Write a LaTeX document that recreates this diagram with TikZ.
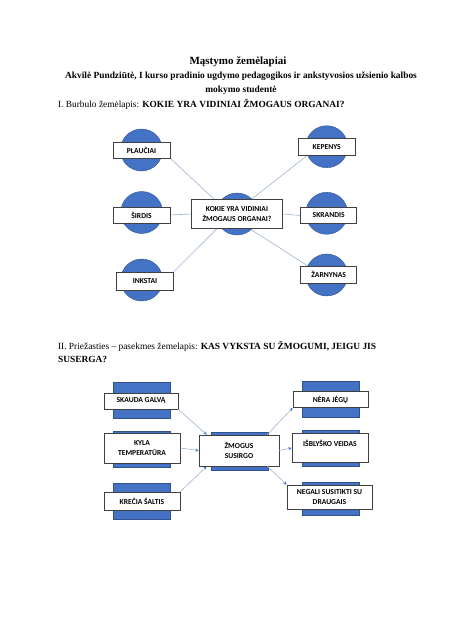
\documentclass[tikz,border=0pt]{standalone}
\usepackage{fontspec}
\setmainfont{Liberation Serif}
\newfontfamily\carlito{Carlito}
\usetikzlibrary{arrows.meta,positioning,calc,backgrounds}
\definecolor{accent1}{HTML}{4472C4}
\definecolor{accent1dk}{HTML}{2F528F}
\definecolor{linegray}{HTML}{9FB2D3}
\definecolor{boxgray}{HTML}{404040}

\begin{document}
\begin{tikzpicture}[x=1pt,y=-1pt,
    bubble/.style={circle,fill=accent1,draw=accent1dk,line width=0.4pt,minimum size=42pt,inner sep=0pt},
    tag/.style={draw=boxgray,fill=white,line width=0.5pt,minimum width=57pt,minimum height=16pt,inner sep=1pt,font=\carlito\bfseries\fontsize{7.6}{9.5}\selectfont,align=center},
    plate/.style={fill=accent1,draw=accent1dk,line width=0.4pt,minimum width=57pt,minimum height=36pt,inner sep=0pt},
    cause/.style={tag,minimum width=76pt},
    link/.style={linegray,line width=0.6pt},
    arr/.style={link,-{Stealth[length=3.5pt,width=3pt,color=accent1]}}
]
\useasboundingbox (0,0) rectangle (474,632);

% headings
\node[font=\bfseries\fontsize{11}{12}\selectfont] (title) at (238,62) {Mąstymo žemėlapiai};
\node[font=\bfseries\fontsize{9.4}{14}\selectfont,align=center] (author) at (241,83)
  {Akvilė Pundziūtė, I kurso pradinio ugdymo pedagogikos ir ankstyvosios užsienio kalbos\\mokymo studentė};
\node[anchor=west,font=\fontsize{9.4}{11}\selectfont] (secI) at (54.5,104)
  {I. Burbulo žemėlapis: \textbf{KOKIE YRA VIDINIAI ŽMOGAUS ORGANAI?}};
\node[anchor=west,align=left,font=\fontsize{9.4}{13}\selectfont] (secII) at (54.5,351.5)
  {II. Priežasties – pasekmes žemelapis: \textbf{KAS VYKSTA SU ŽMOGUMI, JEIGU JIS}\\\textbf{SUSERGA?}};

% bubble map
\node[bubble] (kqc) at (237,214) {};
\node[tag,minimum width=91pt,minimum height=29pt] (kq) at (kqc) {KOKIE YRA VIDINIAI\\ŽMOGAUS ORGANAI?};

\node[bubble] (plc) at (141.5,150) {};
\node[tag] (pl) at (plc) {PLAUČIAI};
\node[bubble] (kec) at (326.7,146.7) {};
\node[tag,minimum height=17pt] (ke) at (kec) {KEPENYS};
\node[bubble] (sic) at (141.7,212.5) {};
\node[tag] (si) at (141.5,215) {ŠIRDIS};
\node[bubble] (skc) at (326.7,213.3) {};
\node[tag,minimum width=56pt] (sk) at (328.7,215.5) {SKRANDIS};
\node[bubble] (inc) at (141.7,280) {};
\node[tag,minimum height=18pt] (in) at (145,281) {INKSTAI};
\node[bubble] (zac) at (326.7,275) {};
\node[tag,minimum width=56pt,minimum height=17pt] (za) at (328.7,274.7) {ŽARNYNAS};

\begin{pgfonlayer}{background}
\draw[link] (pl.south east) -- ($(kq.north west)!.25!(kq.north east)$);
\draw[link] ($(kq.north west)!.66!(kq.north east)$) -- ($(ke.south west)!.16!(ke.south east)$);
\draw[link] (si.east) -- (kq.west);
\draw[link] (kq.east) -- (sk.west);
\draw[link] ($(kq.south west)!.28!(kq.south east)$) -- (in.north east);
\draw[link] ($(kq.south west)!.64!(kq.south east)$) -- ($(za.north west)!.13!(za.north east)$);
\end{pgfonlayer}

% cause and effect map
\node[plate] (sgp) at (142,400) {};
\node[cause,minimum width=74pt] (sg) at (141,401) {SKAUDA GALVĄ};
\node[plate] (ktp) at (141.5,449) {};
\node[cause,minimum height=30pt] (kt) at (142,448) {KYLA\\TEMPERATŪRA};
\node[plate] (ksp) at (141.5,501) {};
\node[cause,minimum height=18pt] (ks) at (142,501) {KREČIA ŠALTIS};

\node[plate,minimum height=38pt] (zsp) at (239.5,451) {};
\node[cause,minimum width=80pt,minimum height=31pt] (zs) at (239,450.5) {ŽMOGUS\\SUSIRGO};

\node[plate] (njp) at (331,399.5) {};
\node[cause,minimum width=75pt] (nj) at (330.5,399.5) {NĖRA JĖGŲ};
\node[plate] (ivp) at (331,448) {};
\node[cause,minimum height=29pt] (iv) at (330,448) {IŠBLYŠKO VEIDAS\\~};
\node[plate,minimum height=33pt] (ngp) at (331,498.5) {};
\node[cause,minimum width=85pt,minimum height=24pt] (ng) at (329.5,497) {NEGALI SUSITIKTI SU\\DRAUGAIS};

\draw[arr] (sg.south east) -- ($(zs.north west)!.1!(zs.north east)$);
\draw[arr] (kt.east) -- (zs.west);
\draw[arr] (ks.north east) -- ($(zs.south west)!.1!(zs.south east)$);
\draw[arr] ($(zs.north west)!.85!(zs.north east)$) -- (nj.south west);
\draw[arr] (zs.east) -- (iv.west);
\draw[arr] ($(zs.south west)!.85!(zs.south east)$) -- (ng.north west);
\end{tikzpicture}
\end{document}
